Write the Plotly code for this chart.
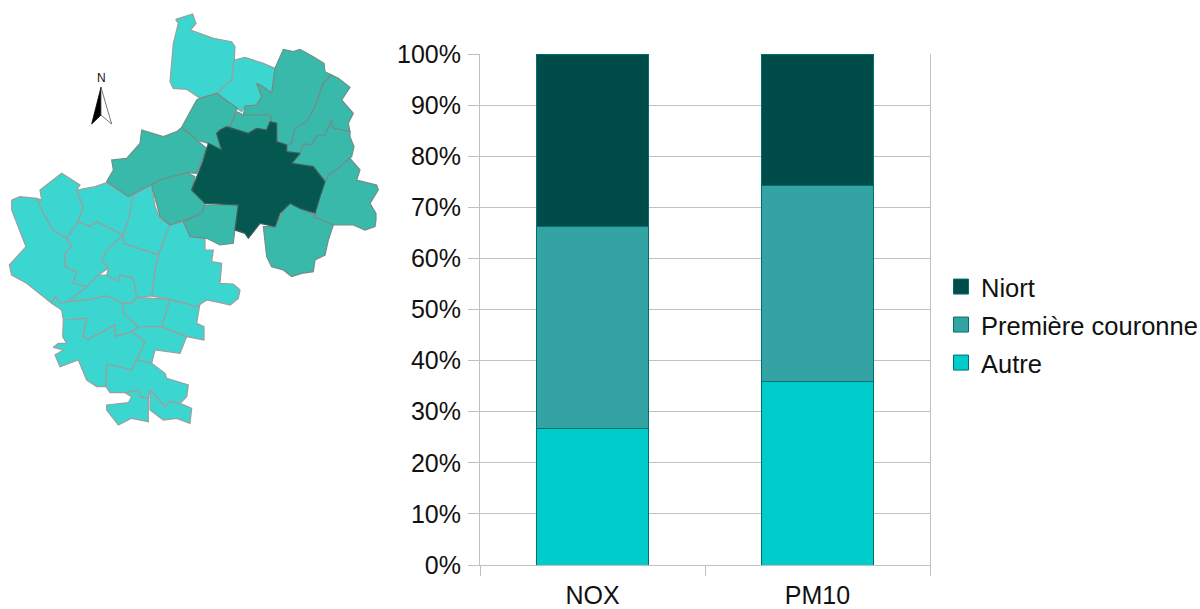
import plotly.graph_objects as go

# ---- chart data ----
pollutants = ["NOX", "PM10"]
autre = [26.7, 36.0]
premiere = [39.5, 38.2]
niort = [33.8, 25.8]
y_ticks = list(range(0, 101, 10))
y_labels = [f"{v}%" for v in y_ticks]
names = ["Autre", "Première couronne", "Niort"]

C_AUTRE, C_PREM, C_NIORT = "#00cccc", "#33a3a3", "#004c4b"
EDGE = "#00706f"
GRID = "#c0c0c0"
FONT = "Liberation Sans"

# ---- map data: communes in map units (1 unit = 1/3 px); S = south sheet shifted by 630 ----
S = 630


def s(points):
    return [(x, y + S) for x, y in points]


map_autre = [
    [(527, 58), (578, 42), (588, 70), (572, 90), (640, 115), (695, 125), (705, 140), (703, 180), (695, 240), (650, 280), (600, 295), (560, 268), (520, 265), (510, 245), (520, 130), (535, 70)],
    [(703, 180), (735, 172), (790, 190), (825, 205), (815, 280), (790, 260), (770, 250), (785, 290), (770, 315), (735, 318), (725, 335), (650, 280), (695, 240)],
    [(35, 600), (60, 590), (110, 595), (125, 605), (130, 640)] + s([(160, 60), (200, 85), (215, 110), (195, 130), (195, 170), (230, 185), (220, 220), (260, 230), (205, 275), (180, 280), (165, 258), (155, 280), (80, 220), (35, 195), (28, 165), (78, 110), (50, 40), (35, 0)]),
    [(110, 595), (125, 600), (120, 570), (185, 520), (240, 555), (230, 570), (250, 620)] + s([(235, 35), (200, 85), (160, 60), (130, 10)]),
    [(230, 570), (285, 560), (320, 548), (385, 590), (400, 585), (395, 660)] + s([(385, 30), (370, 75), (290, 35), (270, 50), (235, 35)]) + [(250, 620)],
    [(400, 585), (455, 555), (465, 620), (480, 655)] + s([(510, 45), (475, 135), (370, 100), (370, 75), (385, 30)]),
    s([(510, 45), (550, 35), (570, 80), (615, 85), (615, 120), (640, 120), (635, 155), (665, 160), (660, 220), (700, 222), (720, 240), (715, 265), (690, 285), (670, 280), (620, 270), (590, 290), (510, 268), (455, 258), (465, 180), (475, 135)]),
    s([(370, 100), (475, 135), (465, 180), (455, 258), (410, 262), (405, 240), (400, 205), (360, 195), (355, 215), (320, 195), (325, 175), (305, 150), (320, 120), (370, 75)]),
    s([(290, 35), (370, 75), (320, 120), (305, 150), (325, 175), (295, 195), (260, 230), (220, 220), (230, 185), (195, 170), (195, 130), (215, 110), (200, 85), (235, 35), (270, 50)]),
    s([(295, 195), (320, 195), (355, 215), (360, 195), (400, 205), (405, 240), (410, 262), (395, 280), (370, 280), (320, 258), (270, 268), (205, 275), (260, 230)]),
    s([(205, 275), (270, 268), (320, 258), (370, 280), (370, 310), (415, 350), (395, 365), (345, 380), (345, 345), (265, 388), (248, 380), (260, 325), (190, 330), (185, 300), (155, 280), (165, 258), (180, 280)]),
    s([(370, 280), (395, 280), (410, 262), (510, 268), (485, 350), (415, 350), (370, 310)]),
    s([(510, 268), (590, 290), (600, 280), (590, 340), (612, 350), (612, 390), (560, 380), (485, 350)]),
    s([(415, 350), (485, 350), (560, 380), (540, 430), (465, 420), (455, 460), (410, 450), (435, 395), (395, 365)]),
    s([(190, 330), (260, 325), (248, 380), (265, 388), (345, 345), (345, 380), (395, 365), (435, 395), (410, 450), (395, 480), (320, 462), (318, 530), (290, 530), (260, 510), (235, 450), (180, 470), (165, 435), (190, 420), (160, 412), (175, 400), (200, 400), (188, 380)]),
    s([(320, 462), (395, 480), (410, 450), (455, 460), (495, 490), (500, 505), (565, 525), (560, 560), (540, 580), (510, 575), (495, 590), (450, 540), (445, 565), (420, 560), (415, 540), (375, 548), (330, 548), (318, 530)]),
    s([(375, 548), (415, 540), (420, 560), (445, 565), (445, 635), (395, 625), (355, 645), (320, 600), (320, 585), (385, 578), (395, 560)]),
    s([(450, 540), (495, 590), (510, 575), (540, 580), (575, 595), (570, 640), (530, 625), (490, 630), (450, 600)]),
]
map_couronne = [
    [(825, 205), (850, 148), (880, 155), (900, 148), (940, 170), (972, 190), (975, 215), (995, 225), (970, 250), (945, 320), (920, 365), (885, 385), (875, 430), (860, 435), (830, 425), (832, 395), (815, 365), (810, 345), (730, 345), (735, 318), (770, 315), (785, 290), (770, 250), (790, 260), (815, 280)],
    [(995, 225), (1015, 235), (1050, 262), (1025, 300), (1060, 340), (1045, 370), (1050, 395), (1000, 385), (995, 362), (975, 405), (950, 408), (935, 435), (910, 432), (900, 460), (860, 455), (860, 435), (875, 430), (885, 385), (920, 365), (945, 320), (970, 250)],
    [(995, 362), (1000, 385), (1050, 395), (1050, 410), (1062, 440), (1055, 470), (1030, 490), (1010, 510), (990, 520), (975, 545), (940, 500), (875, 490), (900, 460), (910, 432), (935, 435), (950, 408), (975, 405)],
    [(1050, 475), (1080, 510), (1070, 540), (1130, 555), (1135, 570), (1110, 610), (1128, 640)] + s([(1128, 30), (1125, 50), (1095, 60), (1060, 45), (1000, 45), (940, 20)]) + [(945, 640), (960, 590), (975, 545), (990, 520), (1010, 510), (1030, 490)],
    [(850, 630), (870, 610), (900, 625), (945, 645)] + s([(940, 20), (1000, 45), (985, 90), (975, 135), (945, 150), (940, 185), (905, 190), (875, 200), (850, 180), (815, 170), (800, 140), (790, 50), (825, 50)]),
    [(650, 280), (712, 325), (690, 380), (660, 390), (650, 400), (665, 450), (625, 430), (590, 420), (545, 382), (590, 300), (600, 295)],
    [(712, 335), (730, 345), (810, 345), (815, 365), (800, 390), (770, 385), (745, 400), (680, 380), (690, 380)],
    [(545, 382), (590, 420), (620, 445), (590, 520), (560, 518), (480, 540), (450, 555), (385, 590), (320, 545), (340, 510), (335, 480), (380, 475), (420, 430), (425, 390), (490, 410), (530, 395)],
    [(455, 555), (480, 540), (560, 518), (585, 530), (575, 570), (615, 610), (605, 640)] + s([(605, 10), (570, 25), (510, 45), (480, 20)]),
    [(615, 615), (715, 615)] + s([(705, 55), (700, 100), (660, 105), (620, 85), (570, 80), (550, 35), (605, 10)]),
]
map_niort = [
    [(660, 390), (680, 380), (745, 400), (770, 385), (800, 390), (810, 365), (830, 370), (830, 425), (860, 435), (860, 455), (900, 460), (875, 490), (940, 500), (975, 545), (960, 590), (945, 640), (900, 625), (870, 610), (840, 640)]
    + s([(825, 50), (780, 40), (745, 85), (735, 70), (705, 60)]) + [(715, 615), (615, 610), (575, 570), (590, 530), (610, 480), (625, 430), (665, 450), (650, 400)],
]
arrow_left = [(303, 262), (275, 372), (303, 345)]
arrow_right = [(303, 262), (335, 372), (303, 345)]
north_label = ("N", 305, 234)

fig = go.Figure()

# ---- stacked bars ----
for name, vals, col in zip(names, [autre, premiere, niort], [C_AUTRE, C_PREM, C_NIORT]):
    fig.add_trace(go.Bar(x=pollutants, y=vals, name=name, width=0.5, showlegend=False,
                         marker=dict(color=col, line=dict(color=EDGE, width=1))))


# ---- map ----
def add_poly(points, fill, line, width=1.2):
    xs = [p[0] for p in points] + [points[0][0]]
    ys = [p[1] for p in points] + [points[0][1]]
    fig.add_trace(go.Scatter(x=xs, y=ys, xaxis="x2", yaxis="y2", mode="lines", fill="toself",
                             fillcolor=fill, line=dict(color=line, width=width),
                             hoverinfo="skip", showlegend=False))


for p in map_autre:
    add_poly(p, "#3bd6d0", "#9a9f9f")
for p in map_couronne:
    add_poly(p, "#38b9a9", "#6f8f8a")
for p in map_niort:
    add_poly(p, "#045850", "#3a5f5c")
add_poly(arrow_left, "#000000", "#000000", 0.8)
add_poly(arrow_right, "#ffffff", "#555555", 0.8)

# ---- legend (separate boxes to hold the reference spacing) ----
leg_y = [287, 325, 363]
for i, (name, col) in enumerate(zip(names[::-1], [C_NIORT, C_PREM, C_AUTRE])):
    ref = "legend" if i == 0 else f"legend{i + 1}"
    fig.add_trace(go.Scatter(x=[None], y=[None], mode="markers", name=name, legend=ref,
                             marker=dict(symbol="square", size=15, color=col, line=dict(color=EDGE, width=1))))

legend_base = dict(x=941 / 1200, xanchor="left", yanchor="middle", bgcolor="rgba(0,0,0,0)",
                   font=dict(family=FONT, size=25.5, color="#111111"), itemsizing="trace", itemwidth=30,
                   borderwidth=0)

fig.update_layout(
    template=None,
    width=1200, height=609, autosize=False,
    margin=dict(l=0, r=0, t=0, b=0, autoexpand=False),
    paper_bgcolor="white", plot_bgcolor="white",
    barmode="stack", bargap=0.5,
    font=dict(family=FONT, size=25, color="#111111"),
    xaxis=dict(domain=[480 / 1200, 930 / 1200], anchor="y", tickson="boundaries", ticks="outside",
               ticklen=10, tickcolor=GRID, tickwidth=1, showline=True, linecolor=GRID, showgrid=False,
               tickfont=dict(size=25), fixedrange=True, automargin=False, ticklabelstandoff=8),
    yaxis=dict(domain=[1 - 565 / 609, 1 - 54 / 609], anchor="x", range=[0, 100], tickmode="array",
               tickvals=y_ticks, ticktext=y_labels, ticks="outside", ticklen=11, tickcolor=GRID,
               showgrid=True, gridcolor=GRID, gridwidth=1, showline=True, linecolor=GRID, mirror=True,
               tickfont=dict(size=25), fixedrange=True, zeroline=False, automargin=False, ticklabelstandoff=2),
    xaxis2=dict(domain=[0, 400 / 1200], range=[0, 1200], visible=False, anchor="y2", fixedrange=True),
    yaxis2=dict(domain=[0, 1], range=[1827, 0], visible=False, anchor="x2", fixedrange=True),
    legend=dict(y=1 - leg_y[0] / 609, **legend_base),
    legend2=dict(y=1 - leg_y[1] / 609, **legend_base),
    legend3=dict(y=1 - leg_y[2] / 609, **legend_base),
    annotations=[dict(text=north_label[0], x=north_label[1], y=north_label[2], xref="x2", yref="y2",
                      showarrow=False, font=dict(family=FONT, size=12, color="#111111"))],
)

fig.write_html("out.html", config={"displayModeBar": False},
               post_script="document.body.style.margin='0';document.documentElement.style.overflow='hidden';")
